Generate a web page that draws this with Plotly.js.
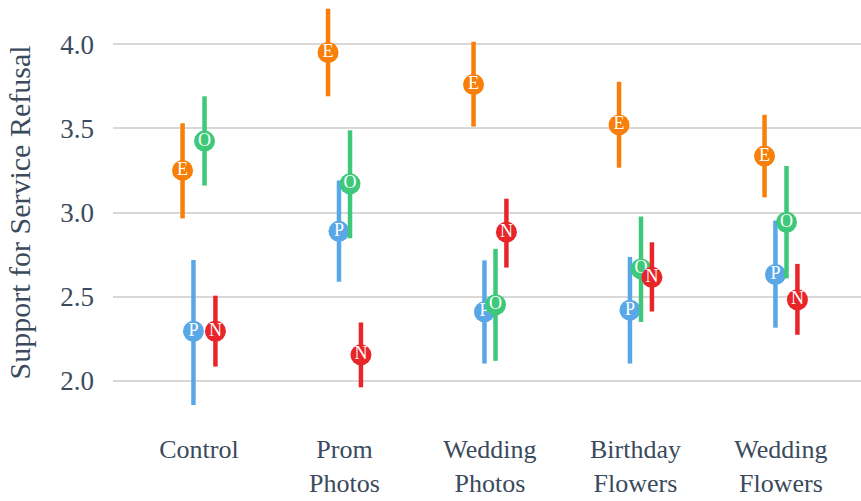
<!DOCTYPE html>
<html>
<head>
<meta charset="utf-8">
<script src="https://cdn.plot.ly/plotly-3.0.1.min.js"></script>
<style>html,body{margin:0;padding:0;background:#fff;}#chart{width:861px;height:501px;}</style>
</head>
<body>
<div id="chart"></div>
<script>
const categories = ['Control', 'Prom<br>Photos', 'Wedding<br>Photos', 'Birthday<br>Flowers', 'Wedding<br>Flowers'];
const tickValues = ['2.0', '2.5', '3.0', '3.5', '4.0'];

const labelE = 'E';
const meanE = [3.25, 3.95, 3.76, 3.52, 3.335];
const lowE  = [2.965, 3.69, 3.51, 3.266, 3.09];
const highE = [3.53, 4.21, 4.014, 3.776, 3.58];

const labelP = 'P';
const meanP = [2.295, 2.888, 2.41, 2.42, 2.632];
const lowP  = [1.857, 2.589, 2.103, 2.103, 2.316];
const highP = [2.718, 3.19, 2.716, 2.736, 2.952];

const labelO = 'O';
const meanO = [3.424, 3.17, 2.452, 2.665, 2.942];
const lowO  = [3.16, 2.847, 2.119, 2.35, 2.609];
const highO = [3.69, 3.488, 2.784, 2.976, 3.276];

const labelN = 'N';
const meanN = [2.295, 2.155, 2.883, 2.615, 2.482];
const lowN  = [2.085, 1.962, 2.673, 2.412, 2.274];
const highN = [2.506, 2.347, 3.082, 2.823, 2.695];

const FONT = '"Liberation Serif", "DejaVu Serif", serif';
const TEXTCOL = '#3b4a5c';

function series(label, mean, low, high, color, offset) {
  return {
    type: 'scatter',
    mode: 'markers+text',
    x: mean.map((_, i) => i + offset),
    y: mean,
    text: mean.map(() => label),
    textposition: 'middle center',
    textfont: {family: FONT, size: 18, color: '#ffffff'},
    marker: {size: 21, color: color, line: {width: 0}},
    error_y: {
      type: 'data', symmetric: false,
      array: high.map((h, i) => h - mean[i]),
      arrayminus: low.map((l, i) => mean[i] - l),
      color: color, thickness: 4.5, width: 0
    },
    hoverinfo: 'skip',
    showlegend: false,
    cliponaxis: false
  };
}

const data = [
  series(labelE, meanE, lowE, highE, '#f77f0a', -0.113),
  series(labelP, meanP, lowP, highP, '#5aa7e8', -0.038),
  series(labelO, meanO, lowO, highO, '#3dc87a', 0.038),
  series(labelN, meanN, lowN, highN, '#e8262a', 0.113)
];

const layout = {
  width: 861, height: 501,
  margin: {l: 113, r: 0, t: 2, b: 78},
  paper_bgcolor: '#ffffff', plot_bgcolor: '#ffffff',
  font: {family: FONT, color: TEXTCOL},
  xaxis: {
    range: [-0.591, 4.55],
    tickmode: 'array',
    tickvals: categories.map((_, i) => i),
    ticktext: categories,
    tickfont: {family: FONT, size: 26, color: TEXTCOL},
    showgrid: false, zeroline: false, showline: false,
    ticks: '', ticklabelstandoff: 8
  },
  yaxis: {
    range: [1.75, 4.25],
    tickmode: 'array',
    tickvals: tickValues.map(Number),
    ticktext: tickValues,
    tickfont: {family: FONT, size: 27, color: TEXTCOL},
    showgrid: true, gridcolor: '#d8d8d8', gridwidth: 2,
    zeroline: false, showline: false, ticks: '', ticklabelstandoff: 18,
    title: {text: 'Support for Service Refusal', font: {family: FONT, size: 30, color: TEXTCOL}, standoff: 20}
  }
};

Plotly.newPlot('chart', data, layout, {displayModeBar: false, staticPlot: true});
</script>
</body>
</html>
